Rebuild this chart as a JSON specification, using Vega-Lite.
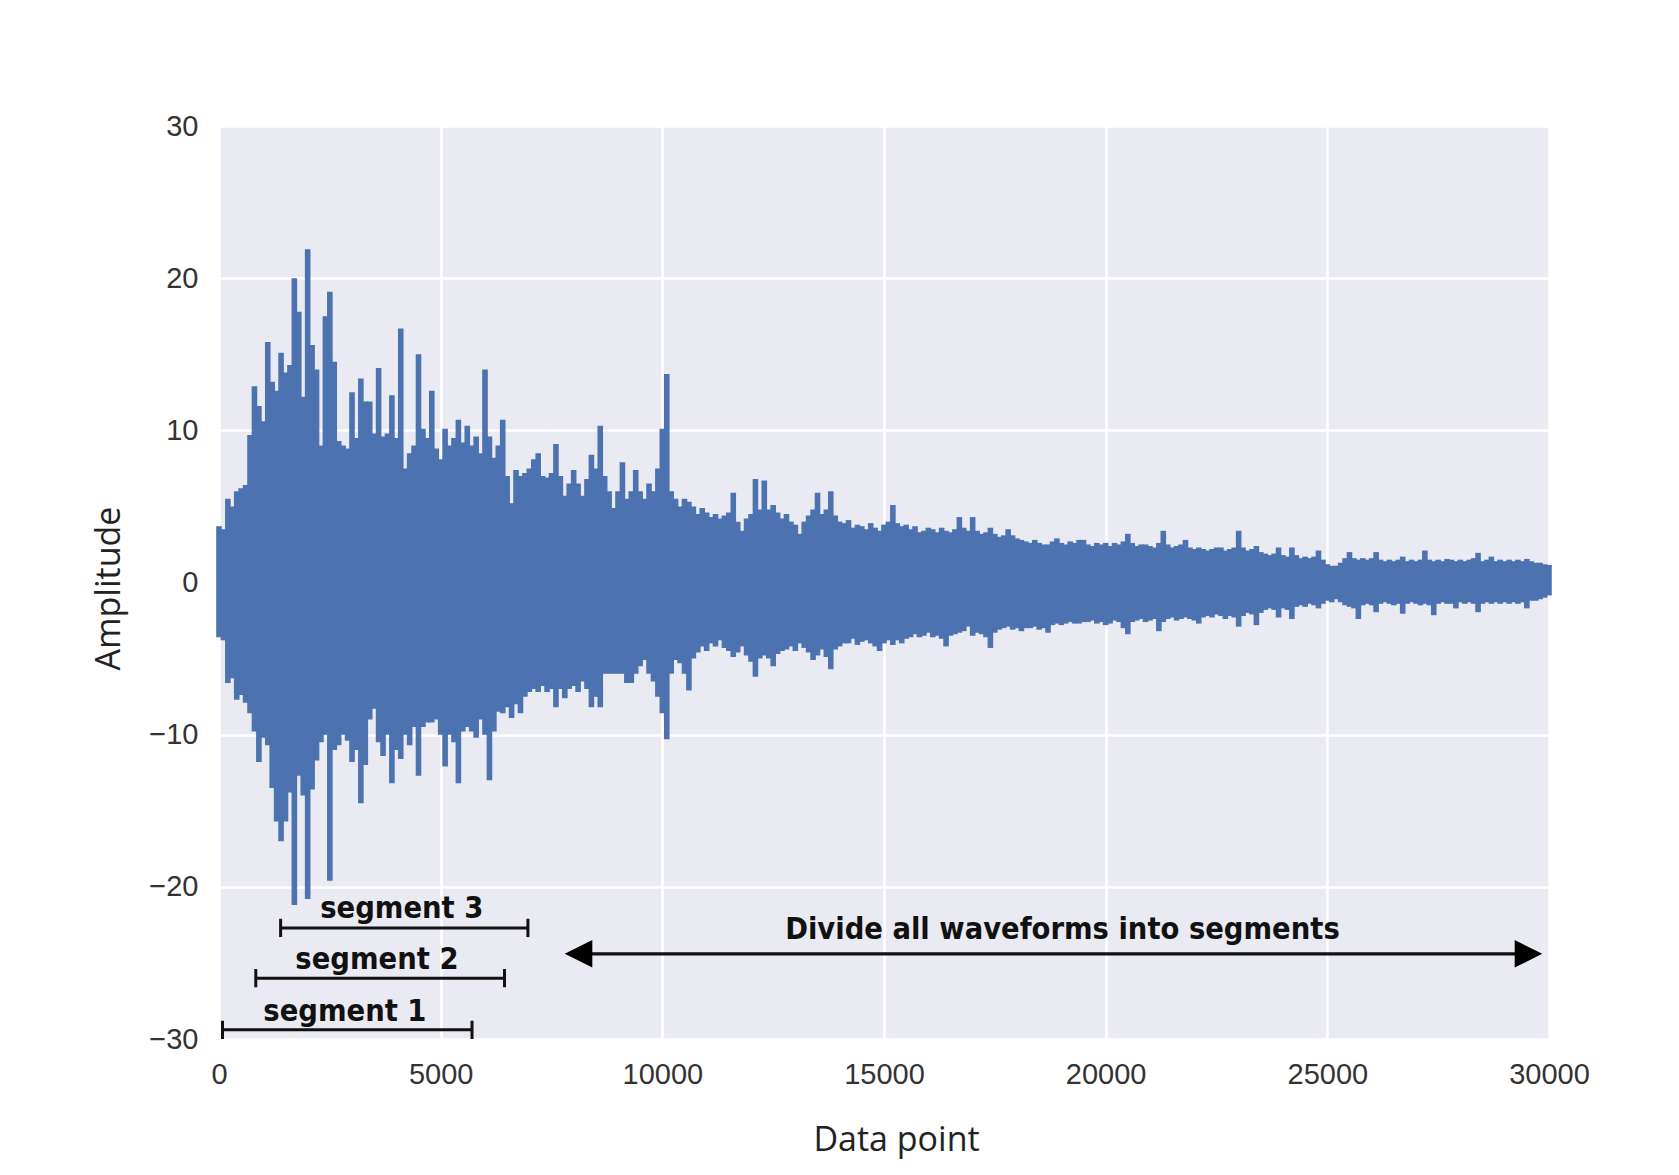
{
  "$schema": "https://vega.github.io/schema/vega-lite/v6.json",
  "autosize": {"type": "none"},
  "width": 1330,
  "height": 913,
  "padding": {"left": 219, "top": 126, "right": 130, "bottom": 136},
  "background": "#ffffff",
  "config": {
    "view": {"fill": "#EAEAF2", "stroke": null},
    "axis": {
      "grid": true, "gridColor": "#ffffff", "gridWidth": 2.5,
      "domain": false, "ticks": false, "tickSize": 0,
      "labelFont": "Liberation Sans", "labelFontSize": 29, "labelColor": "#333333",
      "labelPadding": 21, "labelFlush": false,
      "titleFont": "Open Sans", "titleFontSize": 34, "titleFontWeight": "normal", "titleColor": "#222222"
    }
  },
  "datasets": {
    "wave": [
      {"x":0,"hi":3.7,"lo":-3.6},{"x":100,"hi":3.5,"lo":-3.8},{"x":200,"hi":5.5,"lo":-6.6},{"x":300,"hi":5.0,"lo":-6.3},{"x":400,"hi":6.0,"lo":-7.7},{"x":500,"hi":6.2,"lo":-7.4},{"x":600,"hi":6.4,"lo":-7.9},{"x":700,"hi":9.7,"lo":-8.6},{"x":800,"hi":12.9,"lo":-9.8},{"x":900,"hi":11.6,"lo":-11.8},
      {"x":1000,"hi":10.6,"lo":-10.2},{"x":1100,"hi":15.8,"lo":-10.7},{"x":1200,"hi":13.2,"lo":-13.5},{"x":1300,"hi":12.6,"lo":-15.7},{"x":1400,"hi":15.1,"lo":-17.0},{"x":1500,"hi":13.8,"lo":-15.7},{"x":1600,"hi":14.3,"lo":-13.8},{"x":1700,"hi":20.0,"lo":-21.2},{"x":1800,"hi":17.8,"lo":-12.7},{"x":1900,"hi":12.2,"lo":-14.0},
      {"x":2000,"hi":21.9,"lo":-20.8},{"x":2100,"hi":15.6,"lo":-13.6},{"x":2200,"hi":14.0,"lo":-11.7},{"x":2300,"hi":9.0,"lo":-10.5},{"x":2400,"hi":17.5,"lo":-10.0},{"x":2500,"hi":19.1,"lo":-19.6},{"x":2600,"hi":14.5,"lo":-11.0},{"x":2700,"hi":9.3,"lo":-10.7},{"x":2800,"hi":9.0,"lo":-10.0},{"x":2900,"hi":8.8,"lo":-10.4},
      {"x":3000,"hi":12.5,"lo":-11.8},{"x":3100,"hi":9.5,"lo":-11.0},{"x":3200,"hi":13.4,"lo":-14.5},{"x":3300,"hi":11.9,"lo":-12.0},{"x":3400,"hi":11.9,"lo":-9.0},{"x":3500,"hi":9.8,"lo":-8.3},{"x":3600,"hi":14.1,"lo":-10.5},{"x":3700,"hi":9.6,"lo":-11.4},{"x":3800,"hi":9.8,"lo":-10.0},{"x":3900,"hi":12.3,"lo":-13.2},
      {"x":4000,"hi":9.5,"lo":-11.0},{"x":4100,"hi":16.7,"lo":-11.6},{"x":4200,"hi":7.5,"lo":-10.0},{"x":4300,"hi":8.5,"lo":-10.7},{"x":4400,"hi":9.0,"lo":-9.5},{"x":4500,"hi":15.0,"lo":-12.7},{"x":4600,"hi":10.1,"lo":-9.5},{"x":4700,"hi":9.5,"lo":-9.2},{"x":4800,"hi":12.6,"lo":-9.2},{"x":4900,"hi":8.8,"lo":-9.0},
      {"x":5000,"hi":8.1,"lo":-10.0},{"x":5100,"hi":10.1,"lo":-12.1},{"x":5200,"hi":9.0,"lo":-10.0},{"x":5300,"hi":9.5,"lo":-10.5},{"x":5400,"hi":10.7,"lo":-13.2},{"x":5500,"hi":9.2,"lo":-9.8},{"x":5600,"hi":10.3,"lo":-9.5},{"x":5700,"hi":9.0,"lo":-9.8},{"x":5800,"hi":9.6,"lo":-10.2},{"x":5900,"hi":8.5,"lo":-9.0},
      {"x":6000,"hi":14.0,"lo":-10.0},{"x":6100,"hi":9.6,"lo":-13.0},{"x":6200,"hi":8.2,"lo":-9.8},{"x":6300,"hi":9.0,"lo":-8.5},{"x":6400,"hi":10.7,"lo":-8.6},{"x":6500,"hi":7.0,"lo":-8.2},{"x":6600,"hi":5.2,"lo":-8.9},{"x":6700,"hi":7.4,"lo":-8.0},{"x":6800,"hi":7.0,"lo":-8.6},{"x":6900,"hi":7.2,"lo":-7.5},
      {"x":7000,"hi":7.5,"lo":-7.2},{"x":7100,"hi":8.1,"lo":-7.0},{"x":7200,"hi":8.5,"lo":-7.2},{"x":7300,"hi":7.0,"lo":-6.8},{"x":7400,"hi":6.9,"lo":-7.2},{"x":7500,"hi":7.2,"lo":-7.0},{"x":7600,"hi":9.1,"lo":-8.2},{"x":7700,"hi":7.0,"lo":-7.0},{"x":7800,"hi":5.7,"lo":-7.6},{"x":7900,"hi":6.5,"lo":-7.0},
      {"x":8000,"hi":7.4,"lo":-6.8},{"x":8100,"hi":6.5,"lo":-7.2},{"x":8200,"hi":5.7,"lo":-6.5},{"x":8300,"hi":6.8,"lo":-7.0},{"x":8400,"hi":8.4,"lo":-8.2},{"x":8500,"hi":7.5,"lo":-7.5},{"x":8600,"hi":10.3,"lo":-8.2},{"x":8700,"hi":7.0,"lo":-6.0},{"x":8800,"hi":6.0,"lo":-6.0},{"x":8900,"hi":4.9,"lo":-6.0},
      {"x":9000,"hi":6.0,"lo":-6.0},{"x":9100,"hi":7.9,"lo":-6.0},{"x":9200,"hi":5.5,"lo":-6.6},{"x":9300,"hi":6.0,"lo":-6.6},{"x":9400,"hi":7.4,"lo":-6.0},{"x":9500,"hi":6.0,"lo":-5.5},{"x":9600,"hi":5.5,"lo":-5.1},{"x":9700,"hi":6.5,"lo":-6.0},{"x":9800,"hi":6.0,"lo":-6.5},{"x":9900,"hi":7.5,"lo":-7.5},
      {"x":10000,"hi":10.1,"lo":-8.6},{"x":10100,"hi":13.7,"lo":-10.3},{"x":10200,"hi":6.0,"lo":-6.0},{"x":10300,"hi":5.5,"lo":-5.1},{"x":10400,"hi":5.0,"lo":-5.3},{"x":10500,"hi":5.5,"lo":-6.0},{"x":10600,"hi":5.3,"lo":-7.1},{"x":10700,"hi":5.0,"lo":-5.0},{"x":10800,"hi":4.5,"lo":-4.6},{"x":10900,"hi":4.9,"lo":-4.2},
      {"x":11000,"hi":4.6,"lo":-4.5},{"x":11100,"hi":4.3,"lo":-4.0},{"x":11200,"hi":4.5,"lo":-4.2},{"x":11300,"hi":4.2,"lo":-3.8},{"x":11400,"hi":4.4,"lo":-4.3},{"x":11500,"hi":4.6,"lo":-4.5},{"x":11600,"hi":5.9,"lo":-4.9},{"x":11700,"hi":4.0,"lo":-4.6},{"x":11800,"hi":3.4,"lo":-4.2},{"x":11900,"hi":4.2,"lo":-4.8},
      {"x":12000,"hi":4.5,"lo":-5.2},{"x":12100,"hi":6.8,"lo":-6.2},{"x":12200,"hi":4.8,"lo":-5.0},{"x":12300,"hi":6.7,"lo":-4.8},{"x":12400,"hi":4.8,"lo":-5.0},{"x":12500,"hi":5.1,"lo":-5.5},{"x":12600,"hi":4.6,"lo":-4.7},{"x":12700,"hi":4.2,"lo":-4.5},{"x":12800,"hi":4.5,"lo":-4.4},{"x":12900,"hi":4.0,"lo":-4.2},
      {"x":13000,"hi":3.8,"lo":-4.5},{"x":13100,"hi":3.2,"lo":-4.0},{"x":13200,"hi":4.0,"lo":-4.3},{"x":13300,"hi":4.4,"lo":-4.6},{"x":13400,"hi":4.8,"lo":-5.1},{"x":13500,"hi":5.9,"lo":-4.8},{"x":13600,"hi":4.5,"lo":-4.4},{"x":13700,"hi":4.8,"lo":-4.9},{"x":13800,"hi":6.0,"lo":-5.7},{"x":13900,"hi":4.4,"lo":-4.4},
      {"x":14000,"hi":4.0,"lo":-4.2},{"x":14100,"hi":3.9,"lo":-4.0},{"x":14200,"hi":4.1,"lo":-4.0},{"x":14300,"hi":3.6,"lo":-3.7},{"x":14400,"hi":3.8,"lo":-4.1},{"x":14500,"hi":3.7,"lo":-3.9},{"x":14600,"hi":3.5,"lo":-3.8},{"x":14700,"hi":3.9,"lo":-4.0},{"x":14800,"hi":3.6,"lo":-4.2},{"x":14900,"hi":3.4,"lo":-4.5},
      {"x":15000,"hi":3.8,"lo":-4.0},{"x":15100,"hi":4.0,"lo":-3.8},{"x":15200,"hi":5.1,"lo":-4.1},{"x":15300,"hi":3.9,"lo":-3.8},{"x":15400,"hi":3.7,"lo":-4.0},{"x":15500,"hi":3.8,"lo":-3.7},{"x":15600,"hi":3.5,"lo":-3.6},{"x":15700,"hi":3.7,"lo":-3.4},{"x":15800,"hi":3.3,"lo":-3.6},{"x":15900,"hi":3.4,"lo":-3.5},
      {"x":16000,"hi":3.6,"lo":-3.3},{"x":16100,"hi":3.5,"lo":-3.6},{"x":16200,"hi":3.3,"lo":-3.5},{"x":16300,"hi":3.6,"lo":-3.7},{"x":16400,"hi":3.4,"lo":-4.2},{"x":16500,"hi":3.3,"lo":-3.5},{"x":16600,"hi":3.5,"lo":-3.4},{"x":16700,"hi":4.3,"lo":-3.3},{"x":16800,"hi":3.6,"lo":-3.2},{"x":16900,"hi":3.4,"lo":-2.9},
      {"x":17000,"hi":4.3,"lo":-3.5},{"x":17100,"hi":3.4,"lo":-3.3},{"x":17200,"hi":3.2,"lo":-3.4},{"x":17300,"hi":3.3,"lo":-3.6},{"x":17400,"hi":3.6,"lo":-4.3},{"x":17500,"hi":3.2,"lo":-3.3},{"x":17600,"hi":3.0,"lo":-3.1},{"x":17700,"hi":3.1,"lo":-3.0},{"x":17800,"hi":3.5,"lo":-2.9},{"x":17900,"hi":3.1,"lo":-3.1},
      {"x":18000,"hi":2.9,"lo":-3.0},{"x":18100,"hi":2.8,"lo":-3.2},{"x":18200,"hi":2.7,"lo":-3.0},{"x":18300,"hi":2.6,"lo":-3.0},{"x":18400,"hi":2.8,"lo":-2.9},{"x":18500,"hi":2.6,"lo":-3.1},{"x":18600,"hi":2.5,"lo":-3.0},{"x":18700,"hi":2.5,"lo":-3.3},{"x":18800,"hi":2.7,"lo":-2.8},{"x":18900,"hi":2.9,"lo":-2.7},
      {"x":19000,"hi":2.6,"lo":-2.8},{"x":19100,"hi":2.5,"lo":-2.7},{"x":19200,"hi":2.7,"lo":-2.6},{"x":19300,"hi":2.6,"lo":-2.7},{"x":19400,"hi":2.8,"lo":-2.7},{"x":19500,"hi":2.8,"lo":-2.6},{"x":19600,"hi":2.5,"lo":-2.6},{"x":19700,"hi":2.4,"lo":-2.5},{"x":19800,"hi":2.6,"lo":-2.7},{"x":19900,"hi":2.5,"lo":-2.6},
      {"x":20000,"hi":2.6,"lo":-2.8},{"x":20100,"hi":2.4,"lo":-2.7},{"x":20200,"hi":2.6,"lo":-2.5},{"x":20300,"hi":2.5,"lo":-2.6},{"x":20400,"hi":2.7,"lo":-3.0},{"x":20500,"hi":3.2,"lo":-3.4},{"x":20600,"hi":2.6,"lo":-2.6},{"x":20700,"hi":2.4,"lo":-2.5},{"x":20800,"hi":2.5,"lo":-2.4},{"x":20900,"hi":2.5,"lo":-2.6},
      {"x":21000,"hi":2.4,"lo":-2.5},{"x":21100,"hi":2.3,"lo":-2.4},{"x":21200,"hi":2.6,"lo":-3.2},{"x":21300,"hi":3.4,"lo":-2.6},{"x":21400,"hi":2.5,"lo":-2.4},{"x":21500,"hi":2.3,"lo":-2.3},{"x":21600,"hi":2.4,"lo":-2.5},{"x":21700,"hi":2.5,"lo":-2.4},{"x":21800,"hi":2.8,"lo":-2.3},{"x":21900,"hi":2.3,"lo":-2.4},
      {"x":22000,"hi":2.2,"lo":-2.5},{"x":22100,"hi":2.3,"lo":-2.7},{"x":22200,"hi":2.2,"lo":-2.3},{"x":22300,"hi":2.1,"lo":-2.2},{"x":22400,"hi":2.2,"lo":-2.3},{"x":22500,"hi":2.3,"lo":-2.1},{"x":22600,"hi":2.3,"lo":-2.2},{"x":22700,"hi":2.1,"lo":-2.4},{"x":22800,"hi":2.2,"lo":-2.2},{"x":22900,"hi":2.3,"lo":-2.3},
      {"x":23000,"hi":3.4,"lo":-2.9},{"x":23100,"hi":2.3,"lo":-2.2},{"x":23200,"hi":2.1,"lo":-2.0},{"x":23300,"hi":2.2,"lo":-2.1},{"x":23400,"hi":2.4,"lo":-2.8},{"x":23500,"hi":2.0,"lo":-2.0},{"x":23600,"hi":1.9,"lo":-1.8},{"x":23700,"hi":1.8,"lo":-1.7},{"x":23800,"hi":1.9,"lo":-1.8},{"x":23900,"hi":2.3,"lo":-2.3},
      {"x":24000,"hi":1.8,"lo":-1.7},{"x":24100,"hi":1.7,"lo":-1.8},{"x":24200,"hi":2.3,"lo":-2.4},{"x":24300,"hi":1.8,"lo":-1.6},{"x":24400,"hi":1.6,"lo":-1.5},{"x":24500,"hi":1.7,"lo":-1.6},{"x":24600,"hi":1.6,"lo":-1.4},{"x":24700,"hi":1.7,"lo":-1.5},{"x":24800,"hi":2.1,"lo":-1.7},{"x":24900,"hi":1.5,"lo":-1.4},
      {"x":25000,"hi":1.2,"lo":-1.2},{"x":25100,"hi":1.1,"lo":-1.3},{"x":25200,"hi":1.1,"lo":-1.1},{"x":25300,"hi":1.3,"lo":-1.3},{"x":25400,"hi":1.6,"lo":-1.5},{"x":25500,"hi":2.0,"lo":-1.6},{"x":25600,"hi":1.6,"lo":-1.7},{"x":25700,"hi":1.5,"lo":-2.4},{"x":25800,"hi":1.6,"lo":-1.5},{"x":25900,"hi":1.5,"lo":-1.4},
      {"x":26000,"hi":1.6,"lo":-1.5},{"x":26100,"hi":2.0,"lo":-1.95},{"x":26200,"hi":1.5,"lo":-1.4},{"x":26300,"hi":1.4,"lo":-1.3},{"x":26400,"hi":1.5,"lo":-1.4},{"x":26500,"hi":1.4,"lo":-1.5},{"x":26600,"hi":1.5,"lo":-1.4},{"x":26700,"hi":1.7,"lo":-2.05},{"x":26800,"hi":1.4,"lo":-1.4},{"x":26900,"hi":1.5,"lo":-1.3},
      {"x":27000,"hi":1.4,"lo":-1.4},{"x":27100,"hi":1.5,"lo":-1.5},{"x":27200,"hi":2.1,"lo":-1.4},{"x":27300,"hi":1.5,"lo":-1.5},{"x":27400,"hi":1.4,"lo":-2.15},{"x":27500,"hi":1.5,"lo":-1.4},{"x":27600,"hi":1.4,"lo":-1.3},{"x":27700,"hi":1.55,"lo":-1.4},{"x":27800,"hi":1.5,"lo":-1.4},{"x":27900,"hi":1.4,"lo":-1.7},
      {"x":28000,"hi":1.5,"lo":-1.3},{"x":28100,"hi":1.4,"lo":-1.4},{"x":28200,"hi":1.5,"lo":-1.3},{"x":28300,"hi":1.6,"lo":-1.4},{"x":28400,"hi":1.95,"lo":-1.95},{"x":28500,"hi":1.4,"lo":-1.4},{"x":28600,"hi":1.5,"lo":-1.3},{"x":28700,"hi":1.7,"lo":-1.4},{"x":28800,"hi":1.4,"lo":-1.3},{"x":28900,"hi":1.5,"lo":-1.4},
      {"x":29000,"hi":1.4,"lo":-1.3},{"x":29100,"hi":1.5,"lo":-1.4},{"x":29200,"hi":1.4,"lo":-1.3},{"x":29300,"hi":1.5,"lo":-1.4},{"x":29400,"hi":1.4,"lo":-1.3},{"x":29500,"hi":1.55,"lo":-1.7},{"x":29600,"hi":1.4,"lo":-1.2},{"x":29700,"hi":1.3,"lo":-1.2},{"x":29800,"hi":1.3,"lo":-1.1},{"x":29900,"hi":1.2,"lo":-1.0},
      {"x":30000,"hi":1.15,"lo":-0.85}
    ],
    "segments": [
      {"label":"segment 1","start":79,"end":5707,"y":-29.4,"cap_lo":-30.0,"cap_hi":-28.8,"tx":2840,"ty":-28.8},
      {"label":"segment 2","start":830,"end":6440,"y":-26.0,"cap_lo":-26.6,"cap_hi":-25.4,"tx":3562,"ty":-25.4},
      {"label":"segment 3","start":1390,"end":6968,"y":-22.7,"cap_lo":-23.3,"cap_hi":-22.1,"tx":4123,"ty":-22.06}
    ],
    "arrow": [
      {"label":"Divide all waveforms into segments","start":8110,"end":29537,"y":-24.4,"tx":19025,"ty":-23.4,"left":8110,"right":29537}
    ]
  },
  "layer": [
    {
      "data": {"name": "wave"},
      "mark": {"type": "rule", "color": "#4C72B0", "strokeWidth": 5.6, "strokeCap": "butt", "opacity": 1},
      "encoding": {
        "x": {"field": "x", "type": "quantitative", "scale": {"domain": [0, 30000], "nice": false, "zero": false},
              "axis": {"values": [0, 5000, 10000, 15000, 20000, 25000, 30000], "format": "d", "title": "Data point", "titleX": 677, "titleY": 101, "titleBaseline": "middle", "titleAnchor": null, "titleAlign": "center"}},
        "y": {"field": "hi", "type": "quantitative", "scale": {"domain": [-30, 30], "nice": false},
              "axis": {"values": [-30, -20, -10, 0, 10, 20, 30], "title": "Amplitude", "titleX": -110, "titleY": 462, "titleBaseline": "middle", "titleAngle": -90, "titleAlign": "center"}},
        "y2": {"field": "lo"}
      }
    },
    {
      "data": {"name": "segments"},
      "mark": {"type": "rule", "color": "#111111", "strokeWidth": 3},
      "encoding": {"x": {"field": "start", "type": "quantitative"}, "x2": {"field": "end"}, "y": {"field": "y", "type": "quantitative"}}
    },
    {
      "data": {"name": "segments"},
      "mark": {"type": "rule", "color": "#111111", "strokeWidth": 3},
      "encoding": {"x": {"field": "start", "type": "quantitative"}, "y": {"field": "cap_lo", "type": "quantitative"}, "y2": {"field": "cap_hi"}}
    },
    {
      "data": {"name": "segments"},
      "mark": {"type": "rule", "color": "#111111", "strokeWidth": 3},
      "encoding": {"x": {"field": "end", "type": "quantitative"}, "y": {"field": "cap_lo", "type": "quantitative"}, "y2": {"field": "cap_hi"}}
    },
    {
      "data": {"name": "segments"},
      "mark": {"type": "text", "font": "DejaVu Sans Condensed", "fontWeight": "bold", "fontSize": 30.5, "color": "#111111", "baseline": "alphabetic", "align": "center"},
      "encoding": {"x": {"field": "tx", "type": "quantitative"}, "y": {"field": "ty", "type": "quantitative"}, "text": {"field": "label"}}
    },
    {
      "data": {"name": "arrow"},
      "mark": {"type": "rule", "color": "#111111", "strokeWidth": 3.2},
      "encoding": {"x": {"field": "start", "type": "quantitative"}, "x2": {"field": "end"}, "y": {"field": "y", "type": "quantitative"}}
    },
    {
      "data": {"name": "arrow"},
      "mark": {"type": "point", "shape": "M -1 0 L 1 -1 L 1 1 Z", "filled": true, "color": "#000000", "opacity": 1, "size": 760, "strokeWidth": 0},
      "encoding": {"x": {"field": "left", "type": "quantitative"}, "y": {"field": "y", "type": "quantitative"}}
    },
    {
      "data": {"name": "arrow"},
      "mark": {"type": "point", "shape": "M 1 0 L -1 -1 L -1 1 Z", "filled": true, "color": "#000000", "opacity": 1, "size": 760, "strokeWidth": 0},
      "encoding": {"x": {"field": "right", "type": "quantitative"}, "y": {"field": "y", "type": "quantitative"}}
    },
    {
      "data": {"name": "arrow"},
      "mark": {"type": "text", "font": "DejaVu Sans Condensed", "fontWeight": "bold", "fontSize": 30.5, "color": "#111111", "baseline": "alphabetic", "align": "center"},
      "encoding": {"x": {"field": "tx", "type": "quantitative"}, "y": {"field": "ty", "type": "quantitative"}, "text": {"field": "label"}}
    }
  ]
}
